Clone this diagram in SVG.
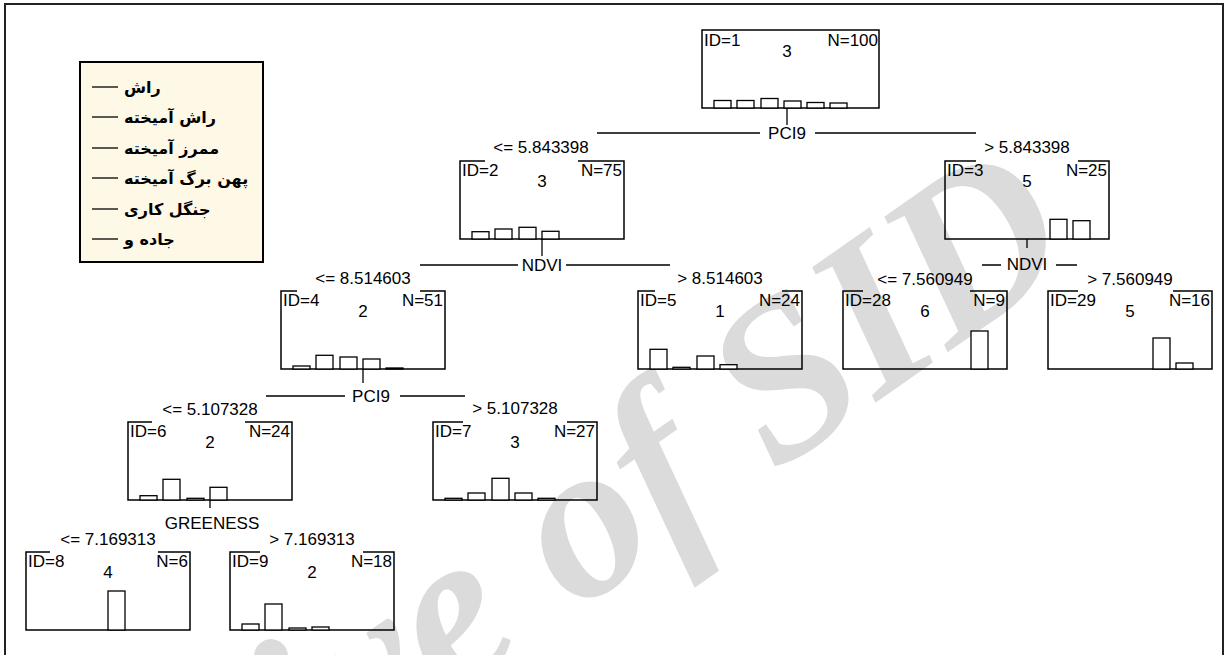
<svg xmlns="http://www.w3.org/2000/svg" width="1229" height="655" viewBox="0 0 1229 655">
<style>
.frame{fill:#fff;stroke:#222;stroke-width:2}
.box{fill:none;stroke:#000;stroke-width:1.5}
.bar{fill:#fff;stroke:#000;stroke-width:1.3}
.t{font-family:"Liberation Sans",Arial,sans-serif;font-size:17px;fill:#000}
.mid{text-anchor:middle}
.end{text-anchor:end}
.ln{stroke:#000;stroke-width:1.3;fill:none}
.legbox{fill:#FEF8E6;stroke:#000;stroke-width:2}
.leg{font-family:"DejaVu Sans",sans-serif;font-weight:bold;font-size:16px;fill:#000}
.wm{font-family:"Liberation Serif","Times New Roman",serif;font-style:italic;font-weight:bold;font-size:225px;fill:#dbdbdb;text-anchor:end}
</style>
<rect class="frame" x="5" y="4" width="1218" height="662"/>

<g id="watermark">
<text class="wm" transform="translate(1082,258) rotate(-35)">Archive of SID</text>
</g>

<g id="legend">
<rect class="legbox" x="80" y="62" width="183" height="200"/>
<g class="ln">
<line x1="92" y1="87" x2="118" y2="87"/>
<line x1="92" y1="117" x2="118" y2="117"/>
<line x1="92" y1="148" x2="118" y2="148"/>
<line x1="92" y1="178" x2="118" y2="178"/>
<line x1="92" y1="209" x2="118" y2="209"/>
<line x1="92" y1="239" x2="118" y2="239"/>
</g>
<text class="leg" x="124" y="93">راش</text>
<text class="leg" x="124" y="123">راش آمیخته</text>
<text class="leg" x="124" y="154">ممرز آمیخته</text>
<text class="leg" x="124" y="184">پهن برگ آمیخته</text>
<text class="leg" x="124" y="215">جنگل کاری</text>
<text class="leg" x="124" y="245">جاده و</text>
</g>

<g id="node1">
<rect class="box" x="702" y="30" width="177" height="78"/>
<rect class="bar" x="714" y="100.5" width="17" height="7.5"/>
<rect class="bar" x="737" y="100.5" width="17" height="7.5"/>
<rect class="bar" x="761" y="98.5" width="17" height="9.5"/>
<rect class="bar" x="784" y="101" width="17" height="7"/>
<rect class="bar" x="807" y="102.5" width="17" height="5.5"/>
<rect class="bar" x="830" y="103" width="17" height="5"/>
<text class="t" x="704" y="46">ID=1</text>
<text class="t end" x="878" y="46">N=100</text>
<text class="t mid" x="787" y="57">3</text>
</g>

<g id="node2">
<path class="box" d="M485 161H460V239H624V161H578"/>
<rect class="bar" x="472" y="231.7" width="17" height="7.3"/>
<rect class="bar" x="495" y="229" width="17" height="10"/>
<rect class="bar" x="519" y="227.3" width="17" height="11.7"/>
<rect class="bar" x="542" y="231.3" width="17" height="7.7"/>
<text class="t" x="462" y="176">ID=2</text>
<text class="t end" x="622" y="176">N=75</text>
<text class="t mid" x="542" y="187">3</text>
</g>

<g id="node3">
<path class="box" d="M976 161H945V239H1109V161H1078"/>
<rect class="bar" x="1050" y="219.3" width="17" height="19.7"/>
<rect class="bar" x="1073" y="220.7" width="17" height="18.3"/>
<text class="t" x="947" y="176">ID=3</text>
<text class="t end" x="1107" y="176">N=25</text>
<text class="t mid" x="1027" y="187">5</text>
</g>

<g id="node4">
<path class="box" d="M297 291H281V369H445V291H420"/>
<rect class="bar" x="293" y="366" width="17" height="3"/>
<rect class="bar" x="316" y="355.3" width="17" height="13.7"/>
<rect class="bar" x="340" y="357" width="17" height="12"/>
<rect class="bar" x="363" y="359" width="17" height="10"/>
<rect class="bar" x="386" y="368" width="17" height="1"/>
<text class="t" x="283" y="306">ID=4</text>
<text class="t end" x="443" y="306">N=51</text>
<text class="t mid" x="363" y="317">2</text>
</g>

<g id="node5">
<path class="box" d="M655 291H638V369H802V291H782"/>
<rect class="bar" x="650" y="349.3" width="17" height="19.7"/>
<rect class="bar" x="673" y="367.3" width="17" height="1.7"/>
<rect class="bar" x="697" y="356" width="17" height="13"/>
<rect class="bar" x="720" y="364.7" width="17" height="4.3"/>
<text class="t" x="640" y="306">ID=5</text>
<text class="t end" x="800" y="306">N=24</text>
<text class="t mid" x="720" y="317">1</text>
</g>

<g id="node28">
<path class="box" d="M863 291H843V369H1007V291H970"/>
<rect class="bar" x="971" y="331" width="17" height="38"/>
<text class="t" x="845" y="306">ID=28</text>
<text class="t end" x="1005" y="306">N=9</text>
<text class="t mid" x="925" y="317">6</text>
</g>

<g id="node29">
<path class="box" d="M1078 291H1048V369H1212V291H1173"/>
<rect class="bar" x="1153" y="338" width="17" height="31"/>
<rect class="bar" x="1176" y="363" width="17" height="6"/>
<text class="t" x="1050" y="306">ID=29</text>
<text class="t end" x="1210" y="306">N=16</text>
<text class="t mid" x="1130" y="317">5</text>
</g>

<g id="node6">
<path class="box" d="M152 422H128V500H292V422H245"/>
<rect class="bar" x="140" y="495.7" width="17" height="4.3"/>
<rect class="bar" x="163" y="479.3" width="17" height="20.7"/>
<rect class="bar" x="187" y="498.3" width="17" height="1.7"/>
<rect class="bar" x="210" y="487.3" width="17" height="12.7"/>
<text class="t" x="130" y="437">ID=6</text>
<text class="t end" x="290" y="437">N=24</text>
<text class="t mid" x="210" y="448">2</text>
</g>

<g id="node7">
<path class="box" d="M463 422H433V500H597V422H567"/>
<rect class="bar" x="445" y="498.3" width="17" height="1.7"/>
<rect class="bar" x="468" y="493" width="17" height="7"/>
<rect class="bar" x="492" y="478.3" width="17" height="21.7"/>
<rect class="bar" x="515" y="493" width="17" height="7"/>
<rect class="bar" x="538" y="498.3" width="17" height="1.7"/>
<text class="t" x="435" y="437">ID=7</text>
<text class="t end" x="595" y="437">N=27</text>
<text class="t mid" x="515" y="448">3</text>
</g>

<g id="node8">
<path class="box" d="M50 552H26V630H190V552H158"/>
<rect class="bar" x="108" y="591" width="17" height="39"/>
<text class="t" x="28" y="567">ID=8</text>
<text class="t end" x="188" y="567">N=6</text>
<text class="t mid" x="108" y="578">4</text>
</g>

<g id="node9">
<path class="box" d="M260 552H230V630H394V552H363"/>
<rect class="bar" x="242" y="624" width="17" height="6"/>
<rect class="bar" x="265" y="604" width="17" height="26"/>
<rect class="bar" x="289" y="628" width="17" height="2"/>
<rect class="bar" x="312" y="627" width="17" height="3"/>
<text class="t" x="232" y="567">ID=9</text>
<text class="t end" x="392" y="567">N=18</text>
<text class="t mid" x="312" y="578">2</text>
</g>

<g id="connectors">
<g class="ln">
<path d="M787 108V125"/>
<path d="M597 133H760M815 133H976"/>
<path d="M542 239V256"/>
<path d="M420 265H518M566 265H670"/>
<path d="M1027 239V248"/>
<path d="M982 265H1001M1056 265H1077"/>
<path d="M363 369V383"/>
<path d="M266 396H345M400 396H465"/>
<path d="M210 500V508"/>
</g>
<text class="t mid" x="787" y="139">PCI9</text>
<text class="t mid" x="541" y="153">&lt;= 5.843398</text>
<text class="t mid" x="1027" y="153">&gt; 5.843398</text>
<text class="t mid" x="542" y="271">NDVI</text>
<text class="t mid" x="1027" y="270">NDVI</text>
<text class="t mid" x="363" y="284">&lt;= 8.514603</text>
<text class="t mid" x="720" y="284">&gt; 8.514603</text>
<text class="t mid" x="925" y="285">&lt;= 7.560949</text>
<text class="t mid" x="1130" y="285">&gt; 7.560949</text>
<text class="t mid" x="371" y="402">PCI9</text>
<text class="t mid" x="210" y="415">&lt;= 5.107328</text>
<text class="t mid" x="515" y="414">&gt; 5.107328</text>
<text class="t mid" x="212" y="529">GREENESS</text>
<text class="t mid" x="108" y="545">&lt;= 7.169313</text>
<text class="t mid" x="312" y="545">&gt; 7.169313</text>
</g>
</svg>
